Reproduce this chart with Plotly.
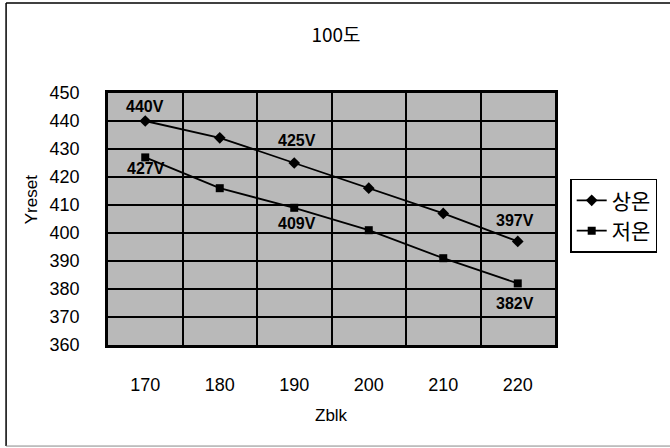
import plotly.graph_objects as go

# Zblk categories and Yreset readings for the two temperature conditions
zblk = [170, 180, 190, 200, 210, 220]
room_temp = [440, 434, 425, 416, 407, 397]   # 상온
low_temp = [427, 416, 409, 401, 391, 382]    # 저온
y_ticks = [360, 370, 380, 390, 400, 410, 420, 430, 440, 450]

# which points carry a "###V" label, with pixel offsets for placement
room_labels = {170: (0, 15), 190: (3, 23), 220: (-3, 21)}
low_labels = {170: (1, -11), 190: (3, -16), 220: (-3, -20)}

FONT = "Liberation Sans, Arial, Noto Sans CJK KR, sans-serif"
KFONT = "Noto Sans CJK KR, Liberation Sans, sans-serif"

fig = go.Figure()
fig.add_trace(go.Scatter(
    x=zblk, y=room_temp, name="상온", mode="lines+markers",
    line=dict(color="black", width=1.8),
    marker=dict(symbol="diamond", size=9, color="black"),
))
fig.add_trace(go.Scatter(
    x=zblk, y=low_temp, name="저온", mode="lines+markers",
    line=dict(color="black", width=1.8),
    marker=dict(symbol="square", size=8, color="black"),
))

annotations = []
for series, labels in ((room_temp, room_labels), (low_temp, low_labels)):
    for xv, (dx, dy) in labels.items():
        yv = series[zblk.index(xv)]
        annotations.append(dict(
            x=xv, y=yv, xref="x", yref="y", text=f"<b>{yv}V</b>",
            showarrow=False, xshift=dx, yshift=dy,
            font=dict(family=FONT, size=16, color="black"),
        ))

# axis titles
annotations.append(dict(
    x=-0.172, y=0.575, xref="paper", yref="paper", text="Yreset",
    textangle=-90, showarrow=False, xanchor="center",
    font=dict(family=FONT, size=17, color="black"),
))
annotations.append(dict(
    x=0.5, y=-0.234, xref="paper", yref="paper", text="Zblk",
    showarrow=False, yanchor="top", font=dict(family=FONT, size=17, color="black"),
))

# outer chart frame
shapes = [
    dict(type="line", xref="paper", yref="paper", x0=-0.228, x1=-0.228,
         y0=1.357, y1=-0.401, line=dict(color="black", width=1.5)),
    dict(type="line", xref="paper", yref="paper", x0=-0.228, x1=1.27,
         y0=1.357, y1=1.357, line=dict(color="black", width=1.5)),
    dict(type="line", xref="paper", yref="paper", x0=-0.228, x1=1.27,
         y0=-0.401, y1=-0.401, line=dict(color="#888888", width=1)),
]

fig.update_layout(
    width=670, height=448,
    margin=dict(l=108, r=115, t=93, b=103),
    paper_bgcolor="white",
    plot_bgcolor="#b9b9b9",
    title=dict(text="100도", x=0.5015, y=0.922, xanchor="center",
               yanchor="middle", font=dict(family=KFONT, size=19, color="black")),
    xaxis=dict(
        range=[165, 225], tickvals=zblk, ticktext=[str(v) for v in zblk],
        showgrid=False, zeroline=False, ticks="",
        showline=True, linecolor="black", linewidth=2.5, mirror=True,
        tickfont=dict(family=FONT, size=18, color="black"),
        ticklabelstandoff=22,
        minor=dict(tickvals=[175, 185, 195, 205, 215], showgrid=True,
                   gridcolor="black", gridwidth=2, ticks=""),
    ),
    yaxis=dict(
        range=[360, 450], tickvals=y_ticks,
        showgrid=True, gridcolor="black", gridwidth=2, zeroline=False,
        ticks="", showline=True, linecolor="black", linewidth=2.5, mirror=True,
        tickfont=dict(family=FONT, size=18, color="black"),
        ticklabelstandoff=22,
    ),
    legend=dict(
        x=1.034, y=0.66, xanchor="left", yanchor="top",
        bordercolor="black", borderwidth=1.5, bgcolor="white",
        font=dict(family=KFONT, size=21, color="black"),
        tracegroupgap=0, itemwidth=30,
    ),
    annotations=annotations,
    shapes=shapes,
    showlegend=True,
)

fig.write_html("out.html")
